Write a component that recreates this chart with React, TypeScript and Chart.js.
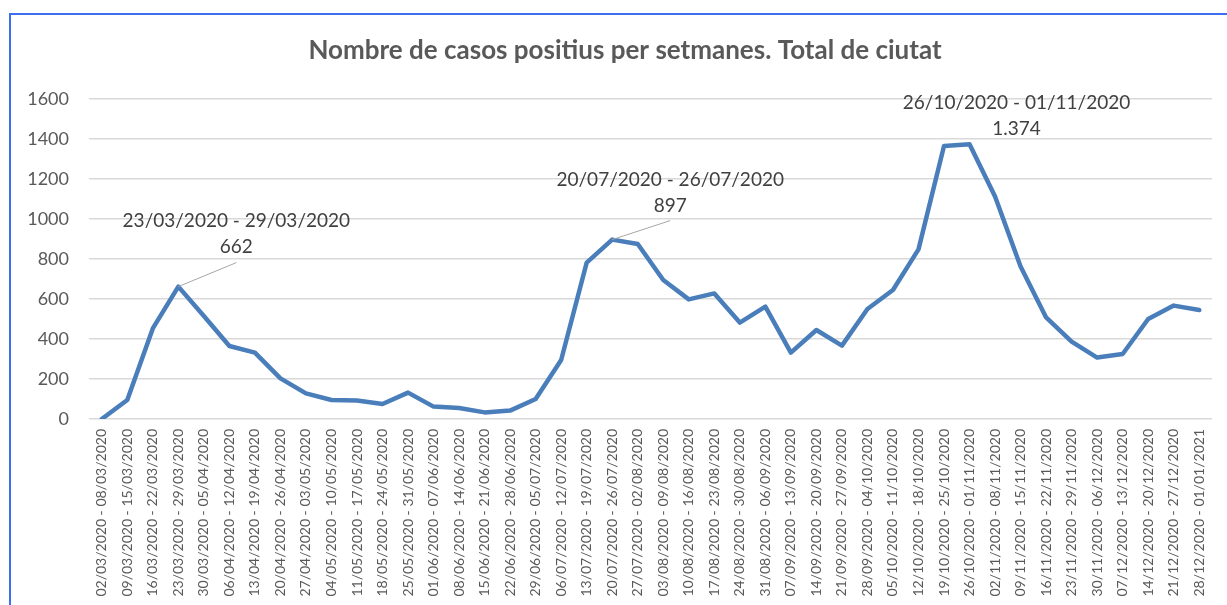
import React, { useEffect, useRef } from "react";
import { Chart, registerables } from "chart.js";

Chart.register(...registerables);

const weekLabels: string[] = [
  "02/03/2020 - 08/03/2020", "09/03/2020 - 15/03/2020", "16/03/2020 - 22/03/2020", "23/03/2020 - 29/03/2020",
  "30/03/2020 - 05/04/2020", "06/04/2020 - 12/04/2020", "13/04/2020 - 19/04/2020", "20/04/2020 - 26/04/2020",
  "27/04/2020 - 03/05/2020", "04/05/2020 - 10/05/2020", "11/05/2020 - 17/05/2020", "18/05/2020 - 24/05/2020",
  "25/05/2020 - 31/05/2020", "01/06/2020 - 07/06/2020", "08/06/2020 - 14/06/2020", "15/06/2020 - 21/06/2020",
  "22/06/2020 - 28/06/2020", "29/06/2020 - 05/07/2020", "06/07/2020 - 12/07/2020", "13/07/2020 - 19/07/2020",
  "20/07/2020 - 26/07/2020", "27/07/2020 - 02/08/2020", "03/08/2020 - 09/08/2020", "10/08/2020 - 16/08/2020",
  "17/08/2020 - 23/08/2020", "24/08/2020 - 30/08/2020", "31/08/2020 - 06/09/2020", "07/09/2020 - 13/09/2020",
  "14/09/2020 - 20/09/2020", "21/09/2020 - 27/09/2020", "28/09/2020 - 04/10/2020", "05/10/2020 - 11/10/2020",
  "12/10/2020 - 18/10/2020", "19/10/2020 - 25/10/2020", "26/10/2020 - 01/11/2020", "02/11/2020 - 08/11/2020",
  "09/11/2020 - 15/11/2020", "16/11/2020 - 22/11/2020", "23/11/2020 - 29/11/2020", "30/11/2020 - 06/12/2020",
  "07/12/2020 - 13/12/2020", "14/12/2020 - 20/12/2020", "21/12/2020 - 27/12/2020", "28/12/2020 - 01/01/2021",
];

const positiveCases: number[] = [
  0, 95, 453, 662, 515, 365, 332, 203, 128, 95, 92, 75,
  132, 62, 55, 33, 42, 100, 295, 782, 897, 875, 695, 598,
  628, 482, 562, 332, 445, 367, 550, 645, 848, 1365, 1374, 1112,
  762, 508, 387, 307, 325, 500, 567, 545,
];

const yTicks: number[] = [0, 200, 400, 600, 800, 1000, 1200, 1400, 1600];

const chartTitle = "Nombre de casos positius per setmanes. Total de ciutat";

// indices of annotated peaks
const annotatedIdx: number[] = [3, 20, 34];

// style offsets for annotation text (pixels relative to point)
const annotationStyle = [
  { dx: 58, dy1: -66, dy2: -40, leader: { dx: 58, dy: -24 } },
  { dx: 58, dy1: -60, dy2: -34, leader: { dx: 58, dy: -19 } },
  { dx: 47, dy1: -41, dy2: -15, leader: null as null | { dx: number; dy: number } },
];

const fmt = (v: number) => v.toString().replace(/\B(?=(\d{3})+(?!\d))/g, ".");

const FONT = "Lato, 'Open Sans', sans-serif";

const overlayPlugin = {
  id: "overlay",
  afterDatasetsDraw(chart: any) {
    const ctx = chart.ctx;
    const meta = chart.getDatasetMeta(0);
    ctx.save();
    // title
    ctx.fillStyle = "#595959";
    ctx.font = `bold 26px ${FONT}`;
    ctx.textAlign = "center";
    ctx.textBaseline = "middle";
    ctx.fillText(chartTitle, 625, 51);
    // annotations
    annotatedIdx.forEach((idx, k) => {
      const pt = meta.data[idx];
      const st = annotationStyle[k];
      const x = pt.x;
      const y = pt.y;
      if (st.leader) {
        ctx.strokeStyle = "#a6a6a6";
        ctx.lineWidth = 1;
        ctx.beginPath();
        ctx.moveTo(x, y);
        ctx.lineTo(x + st.leader.dx, y + st.leader.dy);
        ctx.stroke();
      }
      ctx.fillStyle = "#404040";
      ctx.font = `19px ${FONT}`;
      ctx.textAlign = "center";
      ctx.textBaseline = "middle";
      ctx.fillText(weekLabels[idx], x + st.dx, y + st.dy1);
      ctx.fillText(fmt(positiveCases[idx]), x + st.dx, y + st.dy2);
    });
    ctx.restore();
  },
};

export default function App() {
  const canvasRef = useRef<HTMLCanvasElement | null>(null);

  useEffect(() => {
    if (!canvasRef.current) return;
    const chart = new Chart(canvasRef.current, {
      type: "line",
      data: {
        labels: weekLabels,
        datasets: [
          {
            data: positiveCases,
            borderColor: "#4a7ebb",
            borderWidth: 4.5,
            pointRadius: 0,
            tension: 0,
            fill: false,
            borderJoinStyle: "round",
            borderCapStyle: "round",
          },
        ],
      },
      options: {
        responsive: false,
        animation: false,
        layout: { padding: { top: 99, right: 15, bottom: 0, left: 0 } },
        plugins: {
          legend: { display: false },
          title: { display: false },
          tooltip: { enabled: false },
        },
        scales: {
          x: {
            offset: true,
            grid: { display: false, drawTicks: false },
            border: { display: false },
            ticks: {
              autoSkip: false,
              minRotation: 90,
              maxRotation: 90,
              padding: 10,
              color: "#595959",
              font: { family: FONT, size: 14 },
            },
            afterFit: (s: any) => {
              s.height = 186;
            },
          },
          y: {
            min: 0,
            max: 1600,
            afterBuildTicks: (s: any) => {
              s.ticks = yTicks.map((v) => ({ value: v }));
            },
            grid: { color: "#d9d9d9", lineWidth: 1.5, drawTicks: false },
            border: { display: false },
            ticks: {
              padding: 20,
              color: "#595959",
              font: { family: FONT, size: 18 },
              callback: (v: any) => String(v),
            },
            afterFit: (s: any) => {
              s.width = 89;
            },
          },
        },
      },
      plugins: [overlayPlugin],
    });
    return () => chart.destroy();
  }, []);

  return (
    <div style={{ position: "relative", width: 1227, height: 605 }}>
      <div
        style={{
          position: "fixed",
          left: 9,
          top: 13,
          width: 1260,
          height: 640,
          border: "2px solid #3d6ef0",
          boxSizing: "border-box",
        }}
      />
      <canvas
        ref={canvasRef}
        width={1227}
        height={605}
        style={{ position: "fixed", left: 0, top: 0, width: 1227, height: 605 }}
      />
    </div>
  );
}
